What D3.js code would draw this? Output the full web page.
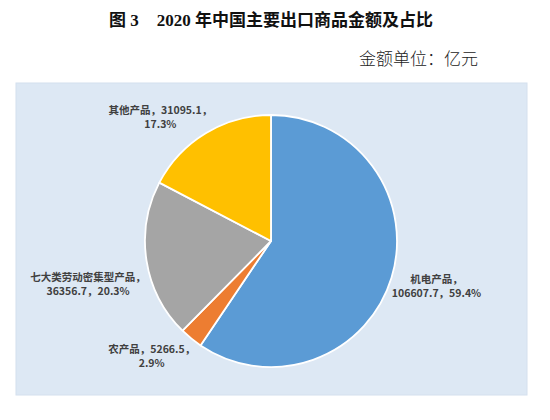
<!DOCTYPE html>
<html><head><meta charset="utf-8">
<script src="https://cdn.jsdelivr.net/npm/d3@7"></script>
<style>body{margin:0;background:#fff;}</style>
</head><body><div id="chart"></div>
<script>
const categories = ["机电产品", "农产品", "七大类劳动密集型产品", "其他产品"];
const amounts = [106607.7, 5266.5, 36356.7, 31095.1];
const shares = ["59.4%", "2.9%", "20.3%", "17.3%"];
const colors = ["#5b9bd5", "#ed7d31", "#a5a5a5", "#ffc000"];
const titleParts = ["图 3", "2020 年中国主要出口商品金额及占比"];
const unitText = "金额单位：亿元";

// label line layouts (how each label wraps)
const labelLines = [
  d => [d.cat + "，", d.amt + "，" + d.pct],
  d => [d.cat + "，" + d.amt + "，", d.pct],
  d => [d.cat + "，", d.amt + "，" + d.pct],
  d => [d.cat + "，" + d.amt + "，", d.pct]
];
const labelNudge = [[2, -6], [-11, -18], [-14, 16], [-22, 22]];

const W = 550, H = 420;
const svg = d3.select("#chart").append("svg").attr("width", W).attr("height", H);

svg.append("rect").attr("x", 16).attr("y", 83).attr("width", 511).attr("height", 312)
  .attr("fill", "#dde8f4").attr("stroke", "#d4e0ee").attr("stroke-width", 1);

const tt = svg.append("text").attr("x", 271).attr("y", 26).attr("text-anchor", "middle")
  .attr("font-family", "'Liberation Serif','Noto Sans CJK SC',serif").attr("font-weight", "bold")
  .attr("font-size", 17).attr("fill", "#111");
tt.append("tspan").text(titleParts[0]);
tt.append("tspan").attr("dx", 18).text(titleParts[1]);

svg.append("text").attr("x", 478).attr("y", 65).attr("text-anchor", "end")
  .attr("font-family", "'Noto Sans CJK SC',sans-serif").attr("font-weight", 300)
  .attr("font-size", 17).attr("fill", "#222").text(unitText);

const cx = 271, cy = 241, R = 126;
const data = categories.map((c, i) => ({cat: c, amt: amounts[i].toFixed(1), pct: shares[i], v: amounts[i], i}));
const pie = d3.pie().sort(null).value(d => d.v);
const arcs = pie(data);
const arc = d3.arc().innerRadius(0).outerRadius(R);
const g = svg.append("g").attr("transform", `translate(${cx},${cy})`);
g.selectAll("path").data(arcs).join("path")
  .attr("d", arc).attr("fill", d => colors[d.data.i])
  .attr("stroke", "#fff").attr("stroke-width", 1.8).attr("stroke-linejoin", "round");

const labelArc = d3.arc().innerRadius(171).outerRadius(171);
const lbl = g.selectAll("text.lbl").data(arcs).join("text").attr("class", "lbl")
  .attr("text-anchor", "middle")
  .attr("font-family", "'Noto Sans CJK SC',sans-serif").attr("font-weight", "bold")
  .attr("font-size", 10.5).attr("fill", "#404040")
  .attr("transform", d => {
    const c = labelArc.centroid(d);
    const n = labelNudge[d.data.i];
    return `translate(${c[0] + n[0]},${c[1] + n[1]})`;
  });
lbl.each(function(d) {
  const lines = labelLines[d.data.i](d.data);
  const t = d3.select(this);
  lines.forEach((s, k) => {
    t.append("tspan").attr("x", 0).attr("y", (k - (lines.length - 1) / 2) * 14)
      .attr("dominant-baseline", "central").text(s);
  });
});
</script></body></html>
